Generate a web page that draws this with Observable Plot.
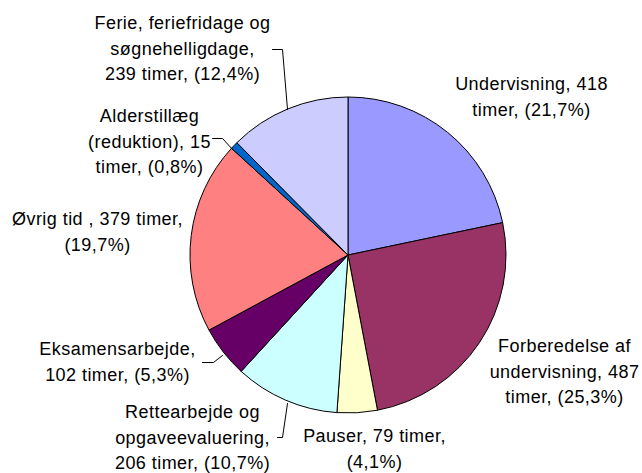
<!DOCTYPE html>
<html>
<head>
<meta charset="utf-8">
<script src="https://cdn.jsdelivr.net/npm/d3@7"></script>
<script src="https://cdn.jsdelivr.net/npm/@observablehq/plot@0.6"></script>
<style>
  html, body { margin: 0; padding: 0; background: #ffffff; }
  #chart svg { display: block; }
</style>
</head>
<body>
<div id="chart"></div>
<script>
// ---- data ----
const categories = [
  "Undervisning",
  "Forberedelse af undervisning",
  "Pauser",
  "Rettearbejde og opgaveevaluering",
  "Eksamensarbejde",
  "Øvrig tid",
  "Alderstillæg (reduktion)",
  "Ferie, feriefridage og søgnehelligdage"
];
const hours = [418, 487, 79, 206, 102, 379, 15, 239];
const colors = ["#9999FF", "#993366", "#FFFFCC", "#CCFFFF", "#660066", "#FF8080", "#0066CC", "#CCCCFF"];
const labelTexts = [
  "Undervisning, 418\ntimer, (21,7%)",
  "Forberedelse af\nundervisning, 487\ntimer, (25,3%)",
  "Pauser, 79 timer,\n(4,1%)",
  "Rettearbejde og\nopgaveevaluering,\n206 timer, (10,7%)",
  "Eksamensarbejde,\n102 timer, (5,3%)",
  "Øvrig tid , 379 timer,\n(19,7%)",
  "Alderstillæg\n(reduktion), 15\ntimer, (0,8%)",
  "Ferie, feriefridage og\nsøgnehelligdage,\n239 timer, (12,4%)"
];

// ---- layout (pixels) ----
const W = 642, H = 473;
const center = [348, 255];
const radius = 158;
const fontSize = 18;
const lineGap = 25.5;
const labelX = [531, 564, 374, 192, 117, 97, 149, 182];
const labelBaseline = [90, 352, 442, 418, 355, 225, 122, 29];
const leaders = [
  {id: "Ferie", pts: [[272, 49], [282, 49], [287, 109]]},
  {id: "Alder", pts: [[212, 138], [222, 138], [233, 150]]},
  {id: "Eksamen", pts: [[202, 362], [213, 362], [222, 355]]},
  {id: "Rette", pts: [[277, 437], [282, 437], [287, 403]]}
];

const slices = d3.pie().sort(null).value(d => d.hours)(
  categories.map((c, i) => ({category: c, hours: hours[i], color: colors[i]}))
);

// Plot's "top" line anchor puts the first baseline 0.71 line-heights below y
const labels = categories.map((c, i) => ({
  text: labelTexts[i],
  x: labelX[i],
  y: labelBaseline[i] - 0.71 * lineGap
}));

const leaderRows = leaders.flatMap(l => l.pts.map(p => ({id: l.id, x: p[0], y: p[1]})));

function pieMark(index, scales) {
  const cx = scales.x(center[0]);
  const cy = scales.y(center[1]);
  const r = scales.x(center[0] + radius) - cx;
  const arc = d3.arc().innerRadius(0).outerRadius(r);
  const g = d3.create("svg:g").attr("transform", `translate(${cx},${cy})`);
  g.selectAll("path")
    .data(slices)
    .join("path")
    .attr("d", arc)
    .attr("fill", d => d.data.color)
    .attr("stroke", "#000000")
    .attr("stroke-width", 1)
    .attr("stroke-linejoin", "round");
  return g.node();
}

const chart = Plot.plot({
  width: W,
  height: H,
  margin: 0,
  style: {background: "#ffffff", fontFamily: "'Liberation Sans', Arial, sans-serif", letterSpacing: "0.45px"},
  x: {domain: [0, W], range: [0, W], axis: null},
  y: {domain: [0, H], range: [0, H], axis: null},
  marks: [
    pieMark,
    Plot.line(leaderRows, {x: "x", y: "y", z: "id", stroke: "#000000", strokeWidth: 1, curve: "linear"}),
    Plot.text(labels, {
      x: "x", y: "y", text: "text",
      textAnchor: "middle", lineAnchor: "top", lineHeight: lineGap / fontSize,
      fontSize: fontSize, fill: "#000000",
      fontFamily: "'Liberation Sans', Arial, sans-serif"
    })
  ]
});
document.getElementById("chart").appendChild(chart);
</script>
</body>
</html>
